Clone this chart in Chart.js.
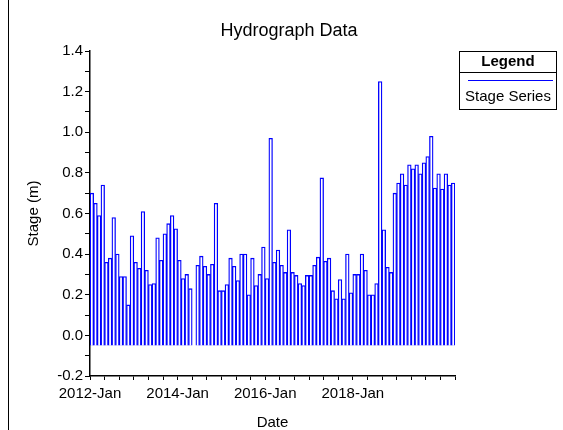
<!DOCTYPE html>
<html>
<head>
<meta charset="utf-8">
<title>Hydrograph Data</title>
<script src="https://cdn.jsdelivr.net/npm/chart.js@4/dist/chart.umd.min.js"></script>
<style>
  html, body { margin: 0; padding: 0; background: #fff; }
  canvas { display: block; }
</style>
</head>
<body>
<canvas id="chart" width="563" height="430"></canvas>
<script>
// monthly stage readings, starting 2012-Jan
const startYear = 2012;
const stage = [
  0.70, 0.65, 0.59, 0.74, 0.36, 0.38, 0.58, 0.40, 0.29, 0.29, 0.15, 0.49,
  0.36, 0.33, 0.61, 0.32, 0.25, 0.255, 0.48, 0.37, 0.50, 0.55, 0.59, 0.525,
  0.37, 0.28, 0.30, 0.23, -0.05, 0.345, 0.39, 0.34, 0.30, 0.35, 0.65, 0.22,
  0.22, 0.25, 0.38, 0.34, 0.27, 0.40, 0.40, 0.20, 0.38, 0.245, 0.30, 0.435,
  0.28, 0.97, 0.36, 0.42, 0.345, 0.31, 0.52, 0.31, 0.295, 0.255, 0.245, 0.295,
  0.295, 0.345, 0.385, 0.775, 0.365, 0.38, 0.22, 0.18, 0.275, 0.18, 0.40, 0.21,
  0.30, 0.30, 0.40, 0.32, 0.20, 0.20, 0.255, 1.25, 0.52, 0.335, 0.31, 0.70,
  0.75, 0.795, 0.74, 0.84, 0.82, 0.84, 0.795, 0.85, 0.88, 0.98, 0.725, 0.795,
  0.72, 0.795, 0.74, 0.75
];
const baseLevel = -0.05;
const monthNames = ['Jan','Feb','Mar','Apr','May','Jun','Jul','Aug','Sep','Oct','Nov','Dec'];
const xTickLabels = ['2012-Jan', '2014-Jan', '2016-Jan', '2018-Jan'];
const yTickLabels = ['-0.2', '0.0', '0.2', '0.4', '0.6', '0.8', '1.0', '1.2', '1.4'];

const FONT = '"Liberation Sans", Arial, sans-serif';

// month label for index i, e.g. 2014-Jan
function monthLabel(i) {
  return (startYear + Math.floor(i / 12)) + '-' + monthNames[i % 12];
}

const points = stage.map((v, i) => ({ x: i + 0.5, y: [baseLevel, v] }));

// title, legend box and left frame line
const extras = {
  id: 'extras',
  afterDraw(chart) {
    const ctx = chart.ctx;
    ctx.save();
    ctx.strokeStyle = '#000';
    ctx.lineWidth = 1;
    ctx.beginPath();
    ctx.moveTo(8.5, 0);
    ctx.lineTo(8.5, 430);
    ctx.stroke();

    ctx.fillStyle = '#000';
    ctx.textAlign = 'center';
    ctx.textBaseline = 'middle';
    ctx.font = '18px ' + FONT;
    ctx.fillText('Hydrograph Data', 289, 31);

    // legend
    const lx = 459.5, ly = 51.5, lw = 97, lh = 58;
    ctx.strokeRect(lx, ly, lw, lh);
    ctx.beginPath();
    ctx.moveTo(lx, 72.5);
    ctx.lineTo(lx + lw, 72.5);
    ctx.stroke();
    ctx.font = 'bold 15px ' + FONT;
    ctx.fillText('Legend', lx + lw / 2, 62);
    ctx.strokeStyle = '#0000ff';
    ctx.beginPath();
    ctx.moveTo(468, 80.5);
    ctx.lineTo(553, 80.5);
    ctx.stroke();
    ctx.font = '15px ' + FONT;
    ctx.fillText('Stage Series', lx + lw / 2, 97);
    ctx.restore();
  }
};

new Chart(document.getElementById('chart'), {
  type: 'bar',
  data: {
    datasets: [{
      label: 'Stage Series',
      data: points,
      backgroundColor: '#ffffff',
      borderColor: '#0000ff',
      borderWidth: 1.3,
      barPercentage: 1,
      categoryPercentage: 1
    }]
  },
  options: {
    responsive: false,
    animation: false,
    layout: { padding: { left: 0, right: 108, top: 51, bottom: 0 } },
    plugins: {
      legend: { display: false },
      tooltip: { enabled: false },
      title: { display: false }
    },
    scales: {
      x: {
        type: 'linear',
        min: 0,
        max: stage.length,
        offset: false,
        afterFit(s) { s.height = 54; },
        border: { display: true, color: '#000', width: 1.5 },
        grid: { display: true, drawOnChartArea: false, drawTicks: true, tickLength: 4, color: '#000', offset: false },
        ticks: {
          stepSize: 4,
          autoSkip: false,
          maxRotation: 0,
          padding: 5,
          color: '#000',
          font: { family: FONT, size: 15 },
          callback(v) {
            const lbl = monthLabel(v);
            return (v % 24 === 0 && xTickLabels.includes(lbl)) ? lbl : '';
          }
        },
        title: {
          display: true,
          text: 'Date',
          color: '#000',
          font: { family: FONT, size: 15, lineHeight: 1 },
          padding: { top: 0, bottom: 0 }
        }
      },
      y: {
        min: -0.2,
        max: 1.4,
        afterFit(s) { s.width = 90; },
        border: { display: true, color: '#000', width: 1.5 },
        grid: { display: true, drawOnChartArea: false, drawTicks: true, tickLength: 5, color: '#000' },
        ticks: {
          stepSize: 0.1,
          autoSkip: false,
          padding: 2,
          color: '#000',
          font: { family: FONT, size: 15 },
          callback(v) {
            const lbl = v.toFixed(1) === '-0.0' ? '0.0' : v.toFixed(1);
            return yTickLabels.includes(lbl) ? lbl : '';
          }
        },
        title: {
          display: true,
          text: 'Stage (m)',
          color: '#000',
          font: { family: FONT, size: 15, lineHeight: 1 },
          padding: { top: 26, bottom: 0 }
        }
      }
    }
  },
  plugins: [extras]
});
</script>
</body>
</html>
